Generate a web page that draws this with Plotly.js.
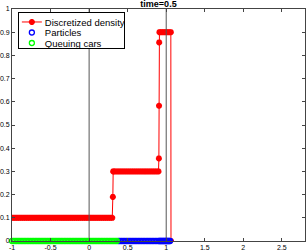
<!DOCTYPE html>
<html>
<head>
<meta charset="utf-8">
<script src="https://cdn.plot.ly/plotly-3.0.1.min.js"></script>
<style>html,body{margin:0;padding:0;background:#fff}#chart{width:307px;height:252px}</style>
</head>
<body>
<div id="chart"></div>
<script>
// Discretized density (red, asterisks)
const densityX = [
  -1,-0.975,-0.95,-0.925,-0.9,-0.875,-0.85,-0.825,-0.8,-0.775,
  -0.75,-0.725,-0.7,-0.675,-0.65,-0.625,-0.6,-0.575,-0.55,-0.525,
  -0.5,-0.475,-0.45,-0.425,-0.4,-0.375,-0.35,-0.325,-0.3,-0.275,
  -0.25,-0.225,-0.2,-0.175,-0.15,-0.125,-0.1,-0.075,-0.05,-0.025,
  0,0.025,0.05,0.075,0.1,0.125,0.15,0.175,0.2,0.225,
  0.25,0.275,0.3,
  0.308,0.312,
  0.325,0.35,0.375,0.4,0.425,0.45,0.475,0.5,0.525,0.55,
  0.575,0.6,0.625,0.65,0.675,0.7,0.725,0.75,0.775,0.8,
  0.825,0.85,0.875,0.9,
  0.905,0.907,0.909,
  0.912,0.935,0.96,0.985,1.01,1.035,1.06,
  1.062
];
const densityY = [
  0.1,0.1,0.1,0.1,0.1,0.1,0.1,0.1,0.1,0.1,
  0.1,0.1,0.1,0.1,0.1,0.1,0.1,0.1,0.1,0.1,
  0.1,0.1,0.1,0.1,0.1,0.1,0.1,0.1,0.1,0.1,
  0.1,0.1,0.1,0.1,0.1,0.1,0.1,0.1,0.1,0.1,
  0.1,0.1,0.1,0.1,0.1,0.1,0.1,0.1,0.1,0.1,
  0.1,0.1,0.1,
  0.19,0.3,
  0.3,0.3,0.3,0.3,0.3,0.3,0.3,0.3,0.3,0.3,
  0.3,0.3,0.3,0.3,0.3,0.3,0.3,0.3,0.3,0.3,
  0.3,0.3,0.3,0.3,
  0.356,0.583,0.856,
  0.9,0.9,0.9,0.9,0.9,0.9,0.9,
  0
];

// Particles (blue circles)
const particlesX = [
  0.38,0.4,0.42,0.44,0.46,0.48,0.5,0.52,0.54,0.56,
  0.58,0.6,0.62,0.64,0.66,0.68,0.7,0.72,0.74,0.76,
  0.78,0.8,0.82,0.84,0.86,0.88,0.9,0.91,0.92,0.93,
  0.94,0.95,0.96,0.97,0.98,0.99,1,1.01,1.02,1.03,
  1.04,1.05
];
const particlesY = [
  0,0,0,0,0,0,0,0,0,0,
  0,0,0,0,0,0,0,0,0,0,
  0,0,0,0,0,0,0,0,0,0,
  0,0,0,0,0,0,0,0,0,0,
  0,0
];

// Queuing cars (green circles)
const queuingX = [
  -1,-0.98,-0.96,-0.94,-0.92,-0.9,-0.88,-0.86,-0.84,-0.82,
  -0.8,-0.78,-0.76,-0.74,-0.72,-0.7,-0.68,-0.66,-0.64,-0.62,
  -0.6,-0.58,-0.56,-0.54,-0.52,-0.5,-0.48,-0.46,-0.44,-0.42,
  -0.4,-0.38,-0.36,-0.34,-0.32,-0.3,-0.28,-0.26,-0.24,-0.22,
  -0.2,-0.18,-0.16,-0.14,-0.12,-0.1,-0.08,-0.06,-0.04,-0.02,
  0,0.02,0.04,0.06,0.08,0.1,0.12,0.14,0.16,0.18,
  0.2,0.22,0.24,0.26,0.28,0.3,0.32,0.34,0.36
];
const queuingY = [
  0,0,0,0,0,0,0,0,0,0,
  0,0,0,0,0,0,0,0,0,0,
  0,0,0,0,0,0,0,0,0,0,
  0,0,0,0,0,0,0,0,0,0,
  0,0,0,0,0,0,0,0,0,0,
  0,0,0,0,0,0,0,0,0,0,
  0,0,0,0,0,0,0,0,0
];

// Road boundaries (vertical lines)
const boundaryX = [0, 1];
const boundaryY = [0, 1];

// Ticks
const xTickVals = [-1,-0.5,0,0.5,1,1.5,2,2.5];
const xTickText = ['-1','-0.5','0','0.5','1','1.5','2','2.5'];
const yTickVals = [0,0.1,0.2,0.3,0.4,0.5,0.6,0.7,0.8,0.9,1];
const yTickText = ['0','0.1','0.2','0.3','0.4','0.5','0.6','0.7','0.8','0.9','1'];

const FONT = 'Liberation Sans, Arial, Helvetica, sans-serif';

const traces = [];
traces.push({
  x: densityX, y: densityY, type: 'scatter', mode: 'lines+markers',
  name: 'Discretized density',
  line: {color: '#ff0000', width: 1},
  marker: {symbol: 'asterisk-open', size: 5, color: '#ff0000', line: {color: '#ff0000', width: 2}}
});
boundaryX.forEach(b => {
  traces.push({
    x: [b, b], y: boundaryY, type: 'scatter', mode: 'lines',
    showlegend: false, hoverinfo: 'skip',
    line: {color: '#555555', width: 1}
  });
});
traces.push({
  x: particlesX, y: particlesY, type: 'scatter', mode: 'markers',
  name: 'Particles', cliponaxis: false,
  marker: {symbol: 'circle-open', size: 5, color: '#0000ff', line: {color: '#0000ff', width: 1.3}}
});
traces.push({
  x: queuingX, y: queuingY, type: 'scatter', mode: 'markers',
  name: 'Queuing cars', cliponaxis: false,
  marker: {symbol: 'circle-open', size: 5, color: '#00ff00', line: {color: '#00ff00', width: 1.3}}
});

const axisCommon = {
  showgrid: false, zeroline: false,
  ticks: 'inside', ticklen: 3, tickwidth: 1, tickcolor: '#444',
  showline: true, linecolor: '#444', linewidth: 1, mirror: 'ticks',
  tickfont: {family: FONT, size: 7, color: '#000'}
};

const layout = {
  width: 307, height: 252,
  margin: {l: 12, r: 2, t: 9, b: 11, pad: 0},
  paper_bgcolor: '#ffffff', plot_bgcolor: '#ffffff',
  font: {family: FONT, color: '#000'},
  title: {
    text: 'time=0.5',
    font: {family: FONT, size: 9, color: '#000', weight: 'bold'},
    xref: 'paper', x: 0.5, xanchor: 'center',
    yref: 'container', y: 0.984, yanchor: 'middle'
  },
  xaxis: Object.assign({}, axisCommon, {range: [-1, 2.8], tickmode: 'array', tickvals: xTickVals, ticktext: xTickText}),
  yaxis: Object.assign({}, axisCommon, {range: [0, 1], tickmode: 'array', tickvals: yTickVals, ticktext: yTickText}),
  showlegend: true,
  legend: {
    x: 0.02, y: 0.985, xanchor: 'left', yanchor: 'top',
    bgcolor: '#ffffff', bordercolor: '#000', borderwidth: 1,
    font: {family: FONT, size: 9.5, color: '#000'},
    tracegroupgap: 0, itemwidth: 30
  }
};

// Compact, MATLAB-like legend rows (native legend items, repositioned)
function compactLegend(gd) {
  const leg = gd.querySelector('.legend');
  if (!leg) return;
  const items = leg.querySelectorAll('g.traces');
  const rowTop = 9.5, rowGap = 10.5;
  items.forEach((it, i) => {
    const tr = it.getAttribute('transform') || '';
    const m = tr.match(/translate\(\s*([-\d.]+)[ ,]+([-\d.]+)\s*\)/);
    const x0 = m ? parseFloat(m[1]) : 1;
    it.setAttribute('transform', 'translate(' + x0 + ',' + (rowTop + i * rowGap) + ')');
    const txt = it.querySelector('text.legendtext');
    if (txt) txt.setAttribute('x', 27 - x0);
    it.querySelectorAll('.legendpoints path').forEach(p => {
      p.setAttribute('transform', 'translate(' + (14 - x0) + ',0)');
    });
    it.querySelectorAll('.legendlines path').forEach(p => {
      p.setAttribute('d', 'M' + (4 - x0) + ',0h20');
    });
  });
  const bg = leg.querySelector('rect.bg');
  if (bg) { bg.setAttribute('width', 106); bg.setAttribute('height', 36); }
}

Plotly.newPlot('chart', traces, layout, {displayModeBar: false, staticPlot: true})
  .then(gd => compactLegend(gd));
</script>
</body>
</html>
